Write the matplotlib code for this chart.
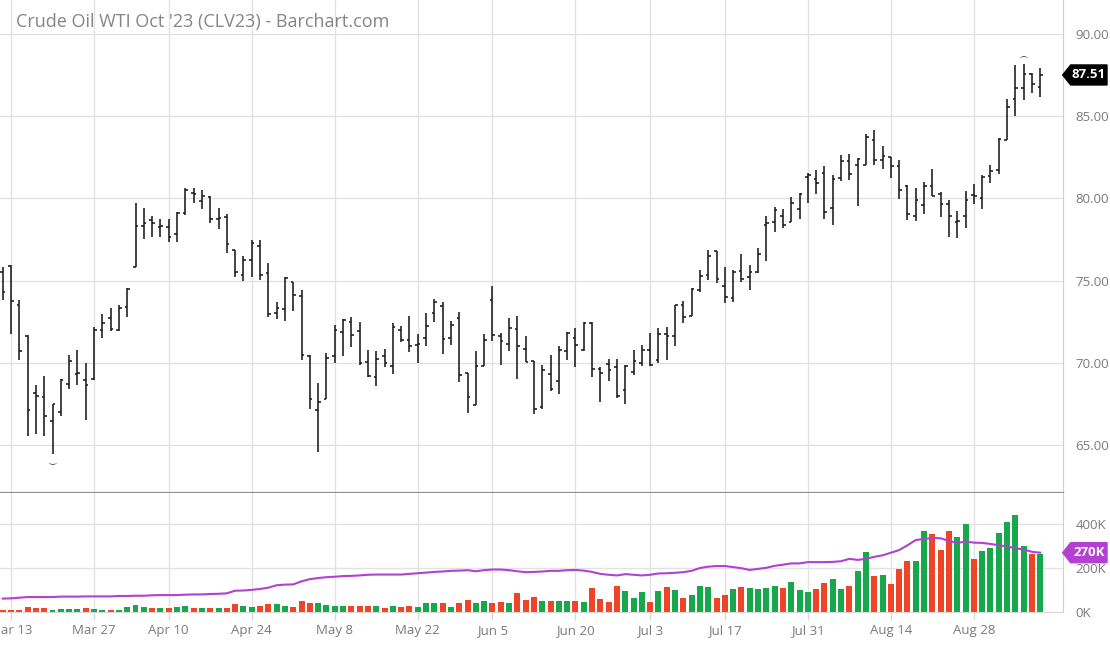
import numpy as np
import pandas as pd
import matplotlib
matplotlib.use("Agg")
import matplotlib.pyplot as plt
from matplotlib.patches import Polygon

plt.rcParams['font.family'] = ['Open Sans', 'DejaVu Sans']

# trading days (CME closed on these)
holidays = ["2023-04-07", "2023-05-29", "2023-06-19", "2023-07-04", "2023-09-04"]
dates = pd.bdate_range("2023-03-10", "2023-09-08")
dates = dates[~dates.isin(pd.to_datetime(holidays))]

opens = [75.5, 75.91, 73.5, 71.63, 68.19, 67.9, 66.46, 67.01, 68.72, 69.33,
         68.98, 69.0, 71.99, 72.7, 71.99, 73.37, 75.83, 78.31, 78.68, 78.28,
         78.25, 77.85, 79.1, 80.32, 79.84, 80.1, 78.76, 78.88, 76.85, 75.33,
         76.24, 77.13, 75.47, 73.04, 73.29, 74.9, 74.08, 70.39, 67.13, 67.8,
         70.39, 71.85, 72.48, 71.91, 70.08, 69.13, 70.43, 69.82, 72.01, 71.36,
         71.1, 71.5, 73.03, 73.48, 71.5, 72.72, 69.37, 67.44, 69.78, 73.8,
         71.61, 71.16, 72.05, 70.83, 70.14, 67.3, 69.33, 68.92, 70.69, 71.5,
         70.77, 72.42, 69.65, 69.92, 69.74, 68.37, 69.47, 69.98, 70.75, 70.18,
         71.73, 71.63, 73.5, 72.87, 74.45, 75.37, 76.79, 74.69, 73.94, 75.61,
         75.22, 75.51, 78.41, 78.58, 78.92, 78.56, 79.37, 81.3, 81.16, 81.57,
         79.43, 81.24, 82.3, 82.05, 82.05, 83.58, 82.36, 82.5, 81.99, 80.73,
         78.94, 79.61, 80.73, 80.26, 79.67, 78.58, 78.96, 80.18, 80.02, 81.34,
         81.71, 83.58, 86.02, 86.73, 87.58, 86.79]
highs = [75.85, 75.95, 73.82, 71.69, 68.68, 69.19, 67.52, 69.0, 70.47, 70.81,
         70.0, 72.2, 73.0, 73.31, 73.52, 74.53, 79.7, 79.43, 78.96, 78.76,
         78.76, 79.19, 80.65, 80.65, 80.51, 80.14, 79.39, 79.06, 76.85, 76.48,
         77.5, 77.46, 76.08, 73.68, 75.2, 74.9, 74.41, 70.45, 68.76, 70.59,
         72.32, 72.66, 72.78, 72.48, 70.79, 70.73, 70.83, 72.42, 72.22, 72.83,
         71.75, 73.03, 73.88, 73.7, 72.56, 73.07, 69.37, 70.69, 71.75, 74.65,
         71.81, 72.72, 72.82, 71.61, 70.14, 69.88, 70.49, 71.04, 71.87, 72.11,
         72.48, 72.48, 69.74, 70.22, 70.22, 69.88, 70.75, 71.1, 71.81, 72.11,
         72.17, 73.54, 73.78, 74.55, 75.63, 76.89, 76.79, 75.81, 75.67, 76.63,
         75.98, 76.99, 78.92, 79.49, 79.37, 80.1, 80.35, 81.52, 81.73, 81.97,
         81.4, 82.66, 82.72, 82.46, 83.92, 84.19, 83.17, 82.5, 82.36, 80.83,
         80.63, 80.98, 81.79, 80.37, 79.88, 79.21, 80.43, 80.89, 81.4, 82.05,
         83.68, 86.06, 88.09, 88.15, 87.64, 87.95]
lows = [73.8, 71.73, 70.2, 65.57, 65.65, 65.53, 64.43, 66.75, 68.4, 68.64,
        66.54, 68.94, 71.48, 71.93, 71.93, 72.76, 75.83, 77.54, 77.66, 77.66,
        77.38, 77.38, 78.98, 79.7, 79.37, 78.52, 78.15, 76.69, 75.22, 74.96,
        75.22, 75.06, 72.78, 72.66, 72.56, 73.13, 70.18, 67.2, 64.59, 67.78,
        69.98, 70.39, 70.96, 69.88, 69.13, 68.56, 69.74, 69.33, 71.24, 70.63,
        69.98, 71.0, 72.46, 70.55, 71.1, 68.82, 66.97, 67.44, 69.78, 71.3,
        69.84, 70.69, 69.0, 70.08, 66.89, 67.2, 68.31, 68.11, 70.18, 69.74,
        70.73, 69.13, 67.6, 68.92, 67.87, 67.5, 69.23, 69.78, 69.78, 70.0,
        70.18, 71.04, 72.42, 72.82, 74.31, 75.06, 74.86, 73.64, 73.68, 74.9,
        74.41, 75.47, 76.18, 77.97, 78.21, 78.56, 78.72, 79.74, 80.24, 78.72,
        78.41, 81.04, 81.1, 79.55, 82.05, 82.05, 81.79, 81.24, 79.96, 78.7,
        78.6, 79.04, 80.12, 78.9, 77.64, 77.62, 78.19, 79.67, 79.35, 80.94,
        81.5, 83.54, 85.04, 85.96, 86.42, 86.18]
closes = [74.3, 73.78, 70.71, 67.13, 67.99, 66.75, 67.5, 68.98, 70.1, 69.37,
          68.68, 71.99, 72.4, 72.07, 73.31, 74.51, 78.31, 78.52, 78.48, 78.32,
          77.64, 79.13, 80.5, 80.28, 80.14, 78.76, 78.82, 77.23, 75.5, 76.28,
          77.3, 75.37, 72.97, 73.35, 75.16, 74.15, 70.45, 67.8, 67.64, 70.28,
          72.01, 72.62, 71.67, 69.98, 69.17, 70.22, 69.98, 72.15, 71.36, 71.0,
          71.16, 72.26, 73.68, 71.44, 72.32, 69.27, 67.95, 69.78, 71.36, 71.71,
          71.34, 72.11, 71.04, 70.08, 67.2, 69.55, 68.41, 70.79, 71.81, 71.06,
          72.42, 69.63, 69.39, 69.57, 68.0, 69.82, 70.12, 70.75, 69.84, 71.77,
          71.63, 73.5, 72.76, 74.51, 75.3, 76.52, 75.12, 73.98, 75.53, 75.12,
          75.51, 76.65, 78.52, 79.29, 78.41, 79.74, 80.28, 81.4, 80.96, 79.19,
          81.2, 82.3, 81.5, 82.4, 83.74, 82.36, 82.6, 81.95, 80.53, 79.04,
          79.92, 80.73, 80.16, 79.67, 78.96, 78.62, 79.88, 80.16, 81.3, 81.65,
          83.62, 85.57, 86.73, 87.58, 86.97, 87.51]

# volume in thousands of contracts, and its moving average
volume_k = [10, 10, 10, 22, 15, 18, 10, 13, 13, 13,
            19, 13, 10, 10, 10, 21, 30, 22, 18, 18,
            15, 21, 24, 15, 19, 15, 15, 15, 36, 27,
            21, 27, 33, 33, 24, 21, 49, 42, 40, 30,
            24, 27, 25, 25, 24, 24, 15, 28, 21, 27,
            22, 39, 40, 42, 22, 40, 52, 39, 49, 39,
            45, 39, 85, 52, 66, 48, 48, 48, 51, 49,
            43, 107, 58, 46, 118, 96, 64, 90, 46, 93,
            112, 100, 64, 76, 119, 112, 61, 76, 106, 115,
            107, 106, 107, 119, 110, 137, 100, 91, 103, 133,
            148, 106, 119, 185, 273, 163, 170, 125, 197, 233,
            233, 369, 354, 282, 370, 342, 403, 242, 278, 293,
            361, 412, 443, 300, 266, 266]
volume_ma_k = [60, 61, 64, 67, 67, 67, 67, 69, 69, 69,
               70, 70, 70, 70, 72, 72, 73, 73, 75, 76,
               76, 76, 78, 79, 79, 81, 82, 84, 96, 97,
               100, 104, 110, 121, 124, 125, 139, 149, 154, 158,
               160, 163, 164, 166, 169, 170, 170, 170, 170, 173,
               176, 179, 182, 184, 187, 188, 190, 185, 190, 193,
               193, 190, 185, 181, 182, 184, 187, 187, 190, 191,
               188, 182, 173, 169, 166, 172, 169, 166, 169, 175,
               176, 178, 181, 187, 200, 206, 209, 209, 204, 199,
               191, 196, 201, 210, 215, 221, 221, 227, 227, 227,
               228, 231, 242, 237, 242, 251, 258, 270, 282, 304,
               328, 333, 337, 336, 324, 315, 321, 316, 315, 310,
               304, 299, 290, 285, 274, 270]

tick_dates = ["2023-03-13", "2023-03-27", "2023-04-10", "2023-04-24", "2023-05-08",
              "2023-05-22", "2023-06-05", "2023-06-20", "2023-07-03", "2023-07-17",
              "2023-07-31", "2023-08-14", "2023-08-28"]
tick_labels = ["Mar 13", "Mar 27", "Apr 10", "Apr 24", "May 8", "May 22", "Jun 5",
               "Jun 20", "Jul 3", "Jul 17", "Jul 31", "Aug 14", "Aug 28"]
price_ticks = [65, 70, 75, 80, 85, 90]
volume_ticks = [0, 200, 400]

GRID = '#e2e2e2'
TXT = '#7a7a7a'
GREEN = '#17a84b'
RED = '#ee4427'
PURPLE = '#b440d2'

W, H = 1110, 645
fig = plt.figure(figsize=(W / 100, H / 100), dpi=100)
right = 1062.7 / W
ax = fig.add_axes([0, 1 - 492.7 / H, right, 492.7 / H])
axv = fig.add_axes([0, 1 - 611.7 / H, right, (611.7 - 492.7) / H])

x = np.arange(len(dates))
o, h, l, c = map(np.array, (opens, highs, lows, closes))
tick_pos = [dates.get_loc(pd.Timestamp(d)) for d in tick_dates]

# price panel
ax.vlines(x, l, h, color='#1a1a1a', lw=1.15)
ax.hlines(o, x - 0.32, x, color='#1a1a1a', lw=1.15)
ax.hlines(c, x, x + 0.32, color='#1a1a1a', lw=1.15)
ax.annotate(r'$\smile$', (x[l.argmin()], l.min()), xytext=(0, -2),
            textcoords='offset points', ha='center', va='top', fontsize=7, color='#333')
ax.annotate(r'$\frown$', (x[h.argmax()], h.max()), xytext=(0, 2),
            textcoords='offset points', ha='center', va='bottom', fontsize=7, color='#333')

ax.set_xlim(-0.325, 127.7)
ax.set_ylim(62.1, 92.07)
ax.set_yticks(price_ticks)
ax.set_yticklabels([f"{p:.2f}" for p in price_ticks])
ax.set_xticks(tick_pos)
ax.tick_params(axis='x', length=0, labelbottom=False)
ax.yaxis.tick_right()
ax.tick_params(axis='y', length=0, pad=9, labelsize=9.5, labelcolor=TXT)
ax.grid(True, color=GRID, lw=1.0)
ax.set_axisbelow(True)
for s in ['left', 'top']:
    ax.spines[s].set_visible(False)
ax.spines['right'].set_color('#d0d0d0')
ax.spines['bottom'].set_color('#8f8f8f')
ax.spines['bottom'].set_linewidth(1.6)

# volume panel
vcol = [GREEN if cc >= oo else RED for oo, cc in zip(opens, closes)]
axv.bar(x, volume_k, width=0.72, color=vcol, zorder=2)
axv.plot(x, volume_ma_k, color=PURPLE, lw=1.5, zorder=3)
axv.set_xlim(-0.325, 127.7)
axv.set_ylim(0, 544.6)
axv.set_yticks(volume_ticks)
axv.set_yticklabels([f"{v}K" for v in volume_ticks])
axv.yaxis.tick_right()
axv.tick_params(axis='y', length=0, pad=9, labelsize=9.5, labelcolor=TXT)
axv.set_xticks(tick_pos)
axv.set_xticklabels(tick_labels)
axv.tick_params(axis='x', length=6, width=1, color='#d9d9d9', pad=3,
                labelsize=9.5, labelcolor=TXT)
axv.grid(True, color=GRID, lw=1.0)
axv.set_axisbelow(True)
for s in ['left', 'top']:
    axv.spines[s].set_visible(False)
axv.spines['right'].set_color('#d0d0d0')
axv.spines['bottom'].set_color('#d9d9d9')

fig.text(16 / W, 1 - 22 / H, "Crude Oil WTI Oct '23 (CLV23) - Barchart.com",
         ha='left', va='center', fontsize=13, color='#858585')

# last value tags on the right axis
def tag(axis, value, label, color):
    yp = axis.transData.transform((0, value))[1]
    x0 = right * W
    pts = [(x0, yp), (x0 + 8, yp + 10), (W - 3, yp + 10), (W - 3, yp - 10), (x0 + 8, yp - 10)]
    fig.patches.append(Polygon(pts, closed=True, color=color, transform=None, zorder=5))
    fig.text((x0 + 8 + W - 3) / 2 / W, yp / H, label, ha='center', va='center',
             color='white', fontsize=9.5, fontweight='bold', zorder=6)

tag(ax, closes[-1], f"{closes[-1]:.2f}", 'black')
tag(axv, volume_ma_k[-1], f"{volume_ma_k[-1]}K", PURPLE)

fig.savefig("out.png", dpi=100)
